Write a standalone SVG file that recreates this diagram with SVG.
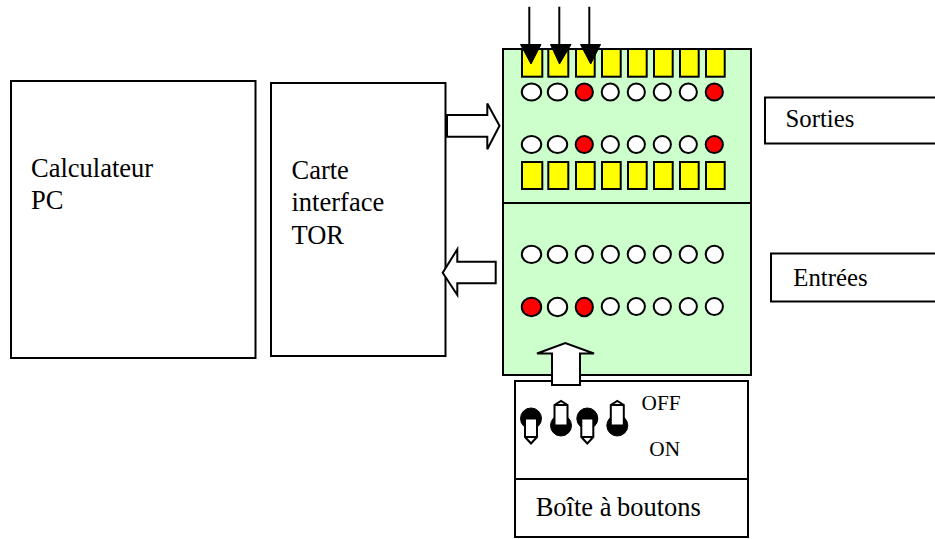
<svg xmlns="http://www.w3.org/2000/svg" width="935" height="539" viewBox="0 0 935 539">
<style>
.b{fill:#fff;stroke:#000;stroke-width:2}
.p{fill:#cfc;stroke:#000;stroke-width:2}
.y{fill:#ff0;stroke:#000;stroke-width:2}
.o{fill:#fff;stroke:#000;stroke-width:2}
.r{fill:#f00;stroke:#000;stroke-width:2}
.w{fill:#fff;stroke:#000;stroke-width:2}
.k{fill:#000;stroke:#000;stroke-width:1}
.l{stroke:#000;stroke-width:2;fill:none}
.h{fill:#000;stroke:#000;stroke-width:1}
text{font-family:"Liberation Serif","Times New Roman",serif;fill:#000}
.t{font-size:26.500px}
.s{font-size:21.300px}
</style>
<defs>
<g id="swd"><circle class="k" cx="0" cy="0" r="10.500"/><path class="w" d="M-6 0H6V18.500L0 25L-6 18.500Z"/><path class="l" d="M-6 18.500H6"/></g>
<g id="swu"><circle class="k" cx="0" cy="0" r="10.500"/><path class="w" d="M-6.500 0V-20.500L0 -24.500L6.500 -20.500V0Z"/><path class="l" d="M-6.500 -20.500H6.500"/></g>
</defs>
<g id="calculateur"><rect class="b" x="11" y="81" width="244.500" height="277"/><text class="t" x="31" y="177">Calculateur</text><text class="t" x="31" y="209">PC</text></g>
<g id="carte"><rect class="b" x="271" y="83" width="174.500" height="273"/><text class="t" x="291.500" y="178.500">Carte</text><text class="t" x="291.500" y="211">interface</text><text class="t" x="291.500" y="244">TOR</text></g>
<g id="sorties"><rect class="p" x="503" y="49" width="248" height="154"/>
<g id="sorties-boutons"><rect class="y" x="522" y="49" width="20.300" height="27.700"/><rect class="y" x="548.300" y="49" width="20" height="27.700"/><rect class="y" x="576" y="49" width="18.700" height="27.700"/><rect class="y" x="602" y="49" width="18.700" height="27.700"/><rect class="y" x="628" y="49" width="18.700" height="27.700"/><rect class="y" x="654" y="49" width="18.700" height="27.700"/><rect class="y" x="680" y="49" width="18.700" height="27.700"/><rect class="y" x="706" y="49" width="18.700" height="27.700"/>
<rect class="y" x="522" y="162" width="20.300" height="27"/><rect class="y" x="548.300" y="162" width="20" height="27"/><rect class="y" x="576" y="162" width="18.700" height="27"/><rect class="y" x="602" y="162" width="18.700" height="27"/><rect class="y" x="628" y="162" width="18.700" height="27"/><rect class="y" x="654" y="162" width="18.700" height="27"/><rect class="y" x="680" y="162" width="18.700" height="27"/><rect class="y" x="706" y="162" width="18.700" height="27"/></g>
<g id="sorties-leds"><ellipse class="o" cx="531.500" cy="92" rx="9.700" ry="8.600"/><ellipse class="o" cx="557.500" cy="92" rx="9.700" ry="8.600"/><ellipse class="r" cx="584.300" cy="92" rx="8.600" ry="8.600"/><ellipse class="o" cx="610.300" cy="92" rx="8.600" ry="8.600"/><ellipse class="o" cx="636.300" cy="92" rx="8.600" ry="8.600"/><ellipse class="o" cx="662.300" cy="92" rx="8.600" ry="8.600"/><ellipse class="o" cx="688.300" cy="92" rx="8.600" ry="8.600"/><ellipse class="r" cx="714.300" cy="92" rx="8.600" ry="8.600"/>
<ellipse class="o" cx="531.500" cy="144.500" rx="9.700" ry="8.600"/><ellipse class="o" cx="557.500" cy="144.500" rx="9.700" ry="8.600"/><ellipse class="r" cx="584.300" cy="144.500" rx="8.600" ry="8.600"/><ellipse class="o" cx="610.300" cy="144.500" rx="8.600" ry="8.600"/><ellipse class="o" cx="636.300" cy="144.500" rx="8.600" ry="8.600"/><ellipse class="o" cx="662.300" cy="144.500" rx="8.600" ry="8.600"/><ellipse class="o" cx="688.300" cy="144.500" rx="8.600" ry="8.600"/><ellipse class="r" cx="714.300" cy="144.500" rx="8.600" ry="8.600"/></g></g>
<g id="entrees"><rect class="p" x="503" y="203" width="248" height="172"/>
<ellipse class="o" cx="531.500" cy="254.300" rx="9.700" ry="8.600"/><ellipse class="o" cx="557.500" cy="254.300" rx="9.700" ry="8.600"/><ellipse class="o" cx="584.300" cy="254.300" rx="8.600" ry="8.600"/><ellipse class="o" cx="610.300" cy="254.300" rx="8.600" ry="8.600"/><ellipse class="o" cx="636.300" cy="254.300" rx="8.600" ry="8.600"/><ellipse class="o" cx="662.300" cy="254.300" rx="8.600" ry="8.600"/><ellipse class="o" cx="688.300" cy="254.300" rx="8.600" ry="8.600"/><ellipse class="o" cx="714.300" cy="254.300" rx="8.600" ry="8.600"/>
<ellipse class="r" cx="531.500" cy="307" rx="9.700" ry="9.200"/><ellipse class="o" cx="557.500" cy="307" rx="9.700" ry="9.200"/><ellipse class="r" cx="584.300" cy="307" rx="8.600" ry="9.200"/><ellipse class="o" cx="610.300" cy="306.500" rx="8.600" ry="8.500"/><ellipse class="o" cx="636.300" cy="306.500" rx="8.600" ry="8.500"/><ellipse class="o" cx="662.300" cy="306.500" rx="8.600" ry="8.500"/><ellipse class="o" cx="688.300" cy="306.500" rx="8.600" ry="8.500"/><ellipse class="o" cx="714.300" cy="306.500" rx="8.600" ry="8.500"/></g>
<g id="boitier"><rect class="b" x="515" y="381" width="233" height="98"/>
<use href="#swd" x="531" y="418.500"/><use href="#swu" x="561" y="425.500"/><use href="#swd" x="587.300" y="418.500"/><use href="#swu" x="617.300" y="425.500"/>
<text class="s" x="641.500" y="410">OFF</text><text class="s" x="649.300" y="456">ON</text></g>
<g id="boite"><rect class="b" x="515" y="479" width="233" height="58"/><text class="t" x="535.700" y="515.500">Boîte à <tspan x="617">boutons</tspan></text></g>
<g id="label-sorties"><path class="l" d="M936 97.500H765V143.500H936"/><text x="785.500" y="126.500" font-size="24.800">Sorties</text></g>
<g id="label-entrees"><path class="l" d="M936 253.500H771V301.500H936"/><text x="793.300" y="286" font-size="24.800">Entrées</text></g>
<g id="connecteurs">
<path class="w" d="M447 115H487.300V103.500L499.500 125.700L487.300 149.300V136.700H447Z"/>
<path class="w" d="M495.700 261.700V283.300H457.300V295L442.700 272.700L457.300 249.300V261.700Z"/>
<path class="w" d="M552 385V353.500H537L565.300 343L594 353.500H580V385Z"/>
<path class="l" d="M529.300 6.700V46M559.300 6.700V46M589.300 6.700V46"/>
<path class="h" d="M520.500 44.500H541L531 64ZM550.500 44.500H571L559.500 64ZM580.500 44.500H600.500L590.700 64Z"/>
</g>
</svg>
